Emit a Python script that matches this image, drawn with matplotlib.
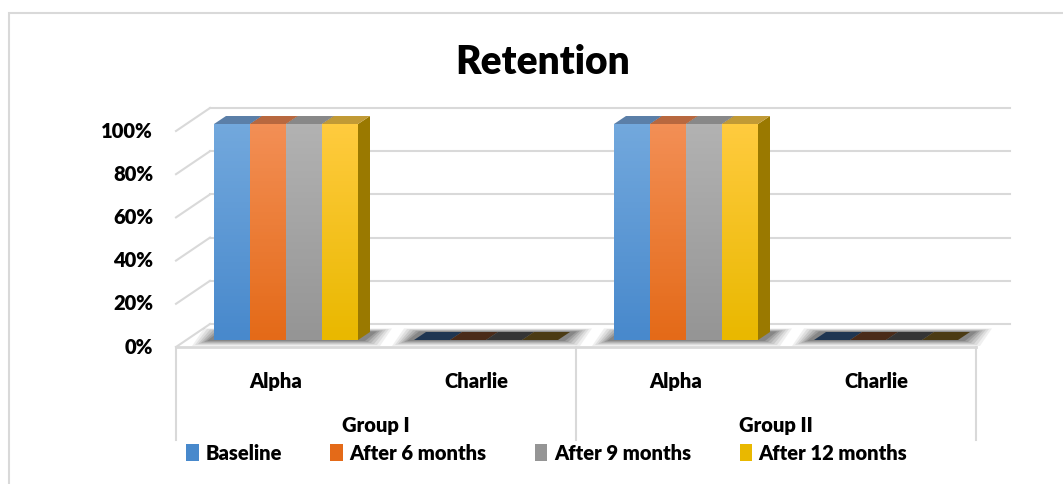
import numpy as np
import matplotlib.pyplot as plt
import matplotlib.colors as mcolors
from matplotlib.patches import Polygon, Rectangle, Patch

plt.rcParams['font.family'] = ['Lato', 'DejaVu Sans']
plt.rcParams['font.weight'] = 'heavy'

groups = ['Group I', 'Group II']
categories = ['Alpha', 'Charlie', 'Alpha', 'Charlie']
series = ['Baseline', 'After 6 months', 'After 9 months', 'After 12 months']
values = {
    'Baseline':        [1.0, 0.0, 1.0, 0.0],
    'After 6 months':  [1.0, 0.0, 1.0, 0.0],
    'After 9 months':  [1.0, 0.0, 1.0, 0.0],
    'After 12 months': [1.0, 0.0, 1.0, 0.0],
}
yticks = [0, 0.2, 0.4, 0.6, 0.8, 1.0]

# (top, bottom) of the front-face gradient
colors = {
    'Baseline':        ('#72a8dd', '#4889cc'),
    'After 6 months':  ('#f38f55', '#e46a18'),
    'After 9 months':  ('#b2b2b2', '#959595'),
    'After 12 months': ('#ffcb3e', '#e9b800'),
}
top_colors = ['#5b7fa8', '#b8683f', '#888888', '#c19a35']
flat_colors = ['#1f3652', '#4a2b19', '#353535', '#4b3b14']
grid_c = '#d9d9d9'
fs = 14.5

fig = plt.figure(figsize=(10.63, 4.84), dpi=100)
W, H = 1063, 484
ax = fig.add_axes([176 / W, (H - 347) / H, 800 / W, 216 / H])
ax.set_xlim(0, len(categories))
ax.set_ylim(0, 1)
ax.axis('off')

# outer chart border
fig.add_artist(Rectangle((9 / W, -0.1), 1.2, (H - 13) / H + 0.1, transform=fig.transFigure,
                         fill=False, edgecolor=grid_c, lw=1.5))

fig.canvas.draw()
p0 = ax.transData.transform((0, 0))
p1 = ax.transData.transform((1, 1))
sx, sy = p1[0] - p0[0], p1[1] - p0[1]


def px(dx, dy):
    return dx / sx, dy / sy


wall = px(34, 23)      # back wall depth
front = px(10, 7)      # front plane of the bars
depth = px(12, 8)      # bar depth
nx = len(categories)

# back wall and side wall gridlines
for t in yticks:
    ax.plot([wall[0], nx + wall[0]], [t + wall[1], t + wall[1]], color=grid_c, lw=1.5,
            clip_on=False, zorder=1)
    ax.plot([0, wall[0]], [t, t + wall[1]], color=grid_c, lw=1.5, clip_on=False, zorder=1)

# floor front edge
ax.plot([0, nx], [0, 0], color=grid_c, lw=2, clip_on=False, zorder=1)

# category box below the floor
for xb in [0, 2, 4]:
    ax.plot([xb, xb], [0, -0.43], color=grid_c, lw=1.5, clip_on=False, zorder=1)

bw = 0.18
offs = (np.arange(len(series)) - 1.5) * bw
xc = np.arange(nx) + 0.5

# floor shadows under each bar group
for i in range(nx):
    xl = xc[i] + offs[0] - bw / 2 + front[0]
    xr = xc[i] + offs[-1] + bw / 2 + front[0]
    for k, a in zip(range(6), [0.07, 0.09, 0.11, 0.13, 0.16, 0.2]):
        gx, gy = px(22 - 3 * k, 6 - k)
        poly = [(xl - gx, front[1] - gy), (xr + gx, front[1] - gy),
                (xr + depth[0] + gx, front[1] + depth[1] + gy * 0.6),
                (xl + depth[0] - gx, front[1] + depth[1] + gy * 0.6)]
        ax.add_patch(Polygon(poly, closed=True, facecolor='#2a2a2a', alpha=a,
                             edgecolor='none', clip_on=False, zorder=2))

grad = np.linspace(0, 1, 64).reshape(-1, 1)
for i in range(nx):
    for j, s in enumerate(series):
        h = values[s][i]
        x0 = xc[i] + offs[j] - bw / 2 + front[0]
        x1 = x0 + bw
        yb = front[1]
        if h > 0:
            bars = ax.bar(x0, h, bw, bottom=yb, align='edge', color='none',
                          clip_on=False, zorder=3)
            cmap = mcolors.LinearSegmentedColormap.from_list('g', [colors[s][1], colors[s][0]])
            im = ax.imshow(grad, cmap=cmap, aspect='auto', origin='lower',
                           extent=(x0, x1, yb, yb + h), zorder=3, clip_on=True)
            im.set_clip_path(bars.patches[0])
            tc = top_colors[j]
        else:
            tc = flat_colors[j]
        top = [(x0, yb + h), (x1, yb + h), (x1 + depth[0], yb + h + depth[1]),
               (x0 + depth[0], yb + h + depth[1])]
        ax.add_patch(Polygon(top, closed=True, facecolor=tc, edgecolor='none',
                             clip_on=False, zorder=4))
        if h > 0:
            side = [(x1, yb), (x1 + depth[0], yb + depth[1]),
                    (x1 + depth[0], yb + h + depth[1]), (x1, yb + h)]
            sc = mcolors.to_rgb(colors[s][1])
            ax.add_patch(Polygon(side, closed=True, facecolor=[c * 0.66 for c in sc],
                                 edgecolor='none', clip_on=False, zorder=2.5))

ax.set_xlim(0, nx)
ax.set_ylim(0, 1)

# axis labels
for t in yticks:
    ax.text(-0.115, t, f'{t * 100:.0f}%', ha='right', va='center',
            fontsize=fs, fontweight='heavy', color='#000000')
for i, c in enumerate(categories):
    ax.text(xc[i], -0.16, c, ha='center', va='center', fontsize=fs, fontweight='heavy')
for g, gi in enumerate(groups):
    ax.text(1 + 2 * g, -0.365, gi, ha='center', va='center', fontsize=fs, fontweight='heavy')

fig.text(543 / W, 1 - 62 / H, 'Retention', ha='center', va='center', fontsize=28,
         fontweight='heavy')

handles = [Patch(facecolor=colors[s][1], edgecolor='none') for s in series]
fig.legend(handles, series, loc='center', bbox_to_anchor=(547 / W, 1 - 453 / H), ncol=4,
           frameon=False, prop={'weight': 'heavy', 'size': fs}, handlelength=0.6,
           handleheight=0.9, handletextpad=0.35, columnspacing=2.4)

fig.savefig('out.png', dpi=100)
